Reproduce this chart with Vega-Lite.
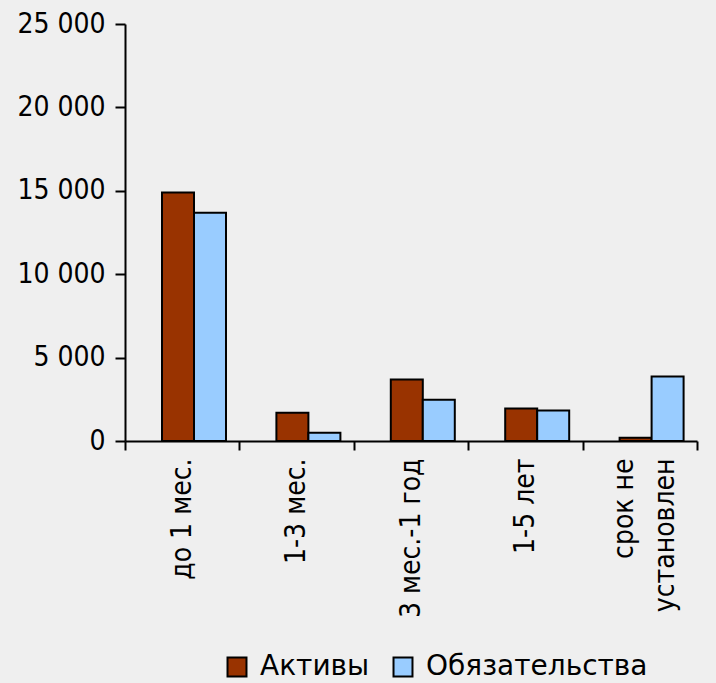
{
  "$schema": "https://vega.github.io/schema/vega-lite/v6.json",
  "width": 572,
  "height": 417,
  "autosize": {"type": "none"},
  "padding": {"left": 125, "top": 24, "right": 19, "bottom": 242},
  "background": "#efefef",
  "data": {
    "values": [
      {"term": "до 1 мес.", "series": "Активы", "value": 14900},
      {"term": "до 1 мес.", "series": "Обязательства", "value": 13680},
      {"term": "1-3 мес.", "series": "Активы", "value": 1700},
      {"term": "1-3 мес.", "series": "Обязательства", "value": 500},
      {"term": "3 мес.-1 год", "series": "Активы", "value": 3680},
      {"term": "3 мес.-1 год", "series": "Обязательства", "value": 2480},
      {"term": "1-5 лет", "series": "Активы", "value": 1950},
      {"term": "1-5 лет", "series": "Обязательства", "value": 1830},
      {"term": "срок не установлен", "series": "Активы", "value": 200},
      {"term": "срок не установлен", "series": "Обязательства", "value": 3870}
    ]
  },
  "config": {
    "view": {"stroke": null},
    "font": "DejaVu Sans Condensed"
  },
  "mark": {"type": "bar", "stroke": "black", "strokeWidth": 2},
  "encoding": {
    "x": {
      "field": "term",
      "type": "nominal",
      "sort": null,
      "scale": {"paddingInner": 0, "paddingOuter": 0},
      "axis": {
        "title": null,
        "labelAngle": -90,
        "labelFontSize": 28,
        "labelColor": "black",
        "labelPadding": 8,
        "labelLimit": 0,
        "domainColor": "black",
        "domainWidth": 2,
        "tickColor": "black",
        "tickWidth": 2,
        "tickSize": 9,
        "tickBand": "extent",
        "labelExpr": "datum.value == 'срок не установлен' ? ['срок не', 'установлен'] : datum.value",
        "labelLineHeight": 41,
        "labelOffset": {"condition": {"test": "datum.value == 'срок не установлен'", "value": -15}, "value": 0}
      }
    },
    "xOffset": {
      "field": "series",
      "type": "nominal",
      "scale": {"range": [37, 101], "paddingInner": 0, "paddingOuter": 0}
    },
    "y": {
      "field": "value",
      "type": "quantitative",
      "scale": {"domain": [0, 25000]},
      "axis": {
        "title": null,
        "values": [0, 5000, 10000, 15000, 20000, 25000],
        "labelExpr": "replace(format(datum.value, ',d'), ',', ' ')",
        "labelFontSize": 28,
        "labelColor": "black",
        "labelPadding": 10,
        "grid": false,
        "domainColor": "black",
        "domainWidth": 2,
        "tickColor": "black",
        "tickWidth": 2,
        "tickSize": 10
      }
    },
    "color": {
      "field": "series",
      "type": "nominal",
      "scale": {"domain": ["Активы", "Обязательства"], "range": ["#993300", "#99ccff"]},
      "legend": {
        "title": null,
        "orient": "none",
        "direction": "horizontal",
        "legendX": 98,
        "legendY": 629,
        "symbolType": "square",
        "symbolSize": 360,
        "symbolStrokeColor": "black",
        "symbolStrokeWidth": 2,
        "symbolOpacity": 1,
        "labelFont": "DejaVu Sans",
        "labelFontSize": 28,
        "labelLimit": 0,
        "labelColor": "black",
        "columnPadding": 19,
        "labelOffset": 9
      }
    }
  }
}
